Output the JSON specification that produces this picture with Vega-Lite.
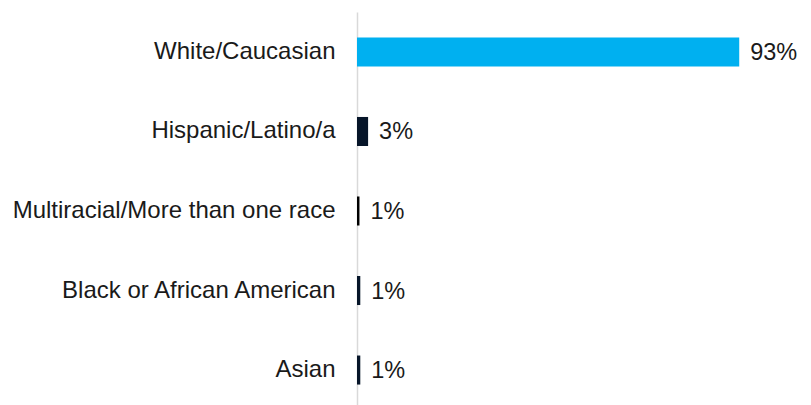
{
  "$schema": "https://vega.github.io/schema/vega-lite/v6.json",
  "autosize": {"type": "none"},
  "padding": {"left": 357, "top": 12, "right": 43, "bottom": 0},
  "width": 411,
  "height": 398,
  "background": "white",
  "config": {"view": {"stroke": null}, "font": "Liberation Sans"},
  "data": {
    "values": [
      {"group": "White/Caucasian", "share": 0.93},
      {"group": "Hispanic/Latino/a", "share": 0.027},
      {"group": "Multiracial/More than one race", "share": 0.006},
      {"group": "Black or African American", "share": 0.008},
      {"group": "Asian", "share": 0.008}
    ]
  },
  "encoding": {
    "y": {
      "field": "group",
      "type": "nominal",
      "sort": null,
      "scale": {"paddingInner": 0.635, "paddingOuter": 0.32},
      "axis": {
        "title": null,
        "ticks": false,
        "domainColor": "#D9D9D9",
        "domainWidth": 1.5,
        "labelFont": "Liberation Sans",
        "labelFontSize": 24,
        "labelColor": "#1a1a1a",
        "labelPadding": 22,
        "labelLimit": 400
      }
    },
    "x": {
      "field": "share",
      "type": "quantitative",
      "scale": {"domain": [0, 1]},
      "axis": null
    }
  },
  "layer": [
    {
      "mark": {"type": "bar"},
      "encoding": {
        "color": {
          "field": "group",
          "type": "nominal",
          "scale": {
            "domain": ["White/Caucasian", "Hispanic/Latino/a", "Multiracial/More than one race", "Black or African American", "Asian"],
            "range": ["#00B0F0", "#061529", "#000000", "#061529", "#061529"]
          },
          "legend": null
        }
      }
    },
    {
      "mark": {"type": "text", "align": "left", "baseline": "middle", "dx": 11, "dy": 1, "font": "Liberation Sans", "fontSize": 23.5, "color": "#1a1a1a"},
      "encoding": {
        "text": {"field": "share", "type": "quantitative", "format": ".0%"}
      }
    }
  ]
}
